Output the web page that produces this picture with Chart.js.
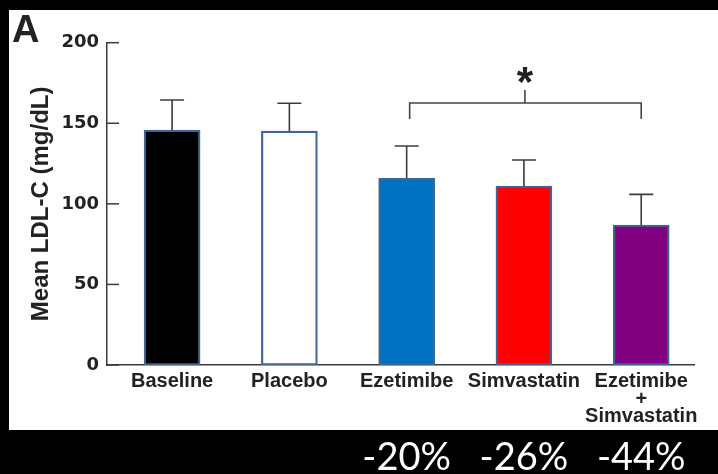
<!DOCTYPE html>
<html>
<head>
<meta charset="utf-8">
<script src="https://cdn.jsdelivr.net/npm/chart.js@4"></script>
<style>
  html, body { margin: 0; padding: 0; background: #000; }
  #wrap { position: relative; width: 718px; height: 474px; }
</style>
</head>
<body>
<div id="wrap"><canvas id="c"></canvas></div>
<script>
// ---- data ----
const categories = ['Baseline', 'Placebo', 'Ezetimibe', 'Simvastatin', ['Ezetimibe', '+', 'Simvastatin']];
const meanLDL = [145.8, 145.2, 115.9, 111.1, 86.9];
const errorTop = [164.4, 162.4, 135.9, 127.2, 105.9];
const barColors = ['#000000', '#ffffff', '#0070c0', '#ff0000', '#800080'];
const yTicks = [0, 50, 100, 150, 200];
const reductionLabels = ['', '', '-20%', '-26%', '-44%'];
const bracket = { from: 2, mid: 3, to: 4, bottom: 152.7, top: 162.6, tick: 170.6, star: 180 };

const decor = {
  id: 'decor',
  beforeDraw(chart) {
    const ctx = chart.ctx;
    ctx.save();
    ctx.fillStyle = '#000';
    ctx.fillRect(0, 0, chart.width, chart.height);
    ctx.fillStyle = '#fff';
    ctx.fillRect(9, 10, chart.width - 9, 420);
    ctx.restore();
  },
  afterDatasetsDraw(chart) {
    const ctx = chart.ctx;
    const xs = chart.scales.x, ys = chart.scales.y;
    ctx.save();
    // error bars
    ctx.strokeStyle = '#3c3c3c';
    ctx.lineWidth = 1.6;
    meanLDL.forEach((v, i) => {
      const x = xs.getPixelForValue(i);
      const y1 = ys.getPixelForValue(v);
      const y2 = ys.getPixelForValue(errorTop[i]);
      ctx.beginPath();
      ctx.moveTo(x, y1); ctx.lineTo(x, y2);
      ctx.moveTo(x - 12, y2); ctx.lineTo(x + 12, y2);
      ctx.stroke();
    });
    // y ticks (inward)
    ctx.strokeStyle = '#3a3a3a';
    ctx.lineWidth = 1.5;
    yTicks.forEach(t => {
      const y = ys.getPixelForValue(t);
      ctx.beginPath();
      ctx.moveTo(chart.chartArea.left, y); ctx.lineTo(chart.chartArea.left + 12, y);
      ctx.stroke();
    });
    // significance bracket
    const xl = xs.getPixelForValue(bracket.from) + 3;
    const xm = xs.getPixelForValue(bracket.mid) + 1;
    const xr = xs.getPixelForValue(bracket.to);
    const yb = ys.getPixelForValue(bracket.bottom);
    const yt = ys.getPixelForValue(bracket.top);
    const yk = ys.getPixelForValue(bracket.tick);
    ctx.strokeStyle = '#444';
    ctx.lineWidth = 1.6;
    ctx.beginPath();
    ctx.moveTo(xl, yb); ctx.lineTo(xl, yt); ctx.lineTo(xr, yt); ctx.lineTo(xr, yb);
    ctx.moveTo(xm, yt); ctx.lineTo(xm, yk);
    ctx.stroke();
    ctx.fillStyle = '#222';
    ctx.font = 'bold 42px "Liberation Sans", Arial, sans-serif';
    ctx.textAlign = 'center';
    ctx.textBaseline = 'middle';
    ctx.fillText('*', xm, ys.getPixelForValue(bracket.star) + 9);
    // panel letter
    ctx.textAlign = 'left';
    ctx.textBaseline = 'alphabetic';
    ctx.font = 'bold 38px "Liberation Sans", Arial, sans-serif';
    ctx.fillText('A', 12, 42);
    // reductions
    ctx.fillStyle = '#fff';
    ctx.font = '38px Lato, "Open Sans", sans-serif';
    ctx.textAlign = 'center';
    reductionLabels.forEach((t, i) => {
      if (t) ctx.fillText(t, xs.getPixelForValue(i), 470);
    });
    ctx.restore();
  }
};

new Chart(document.getElementById('c'), {
  type: 'bar',
  data: {
    datasets: [{
      data: meanLDL.map((v, i) => ({ x: i, y: v })),
      backgroundColor: barColors,
      borderColor: '#406496',
      borderWidth: 2.2,
      borderSkipped: false,
      barThickness: 56
    }]
  },
  options: {
    responsive: true,
    maintainAspectRatio: false,
    animation: false,
    layout: { padding: { left: 0, right: 24, top: 42.7, bottom: 0 } },
    plugins: { legend: { display: false }, tooltip: { enabled: false } },
    scales: {
      x: {
        type: 'linear',
        offset: false,
        min: -0.555,
        max: 4.45,
        afterFit(s) { s.height = 109; },
        afterBuildTicks(s) { s.ticks = categories.map((c, i) => ({ value: i })); },
        grid: { display: false, drawTicks: false },
        border: { display: true, color: '#3a3a3a', width: 1.5 },
        ticks: {
          autoSkip: false,
          maxRotation: 0,
          padding: 8,
          color: '#222',
          font: { family: '"Liberation Sans", Arial, sans-serif', size: 20, weight: 'bold', lineHeight: 0.87 },
          callback: (v) => categories[v]
        }
      },
      y: {
        min: 0,
        max: 200,
        afterFit(s) { s.width = 107; },
        afterBuildTicks(s) { s.ticks = yTicks.map(v => ({ value: v })); },
        grid: { display: false, drawTicks: false },
        border: { display: true, color: '#3a3a3a', width: 1.5 },
        ticks: {
          padding: 8,
          color: '#222',
          font: { family: '"DejaVu Sans", sans-serif', size: 18, weight: 'bold' }
        },
        title: {
          display: true,
          text: 'Mean LDL-C (mg/dL)',
          color: '#222',
          padding: { top: 27, bottom: 0 },
          font: { family: '"Liberation Sans", Arial, sans-serif', size: 24, weight: 'bold', lineHeight: 1.2 }
        }
      }
    }
  },
  plugins: [decor]
});
</script>
</body>
</html>
